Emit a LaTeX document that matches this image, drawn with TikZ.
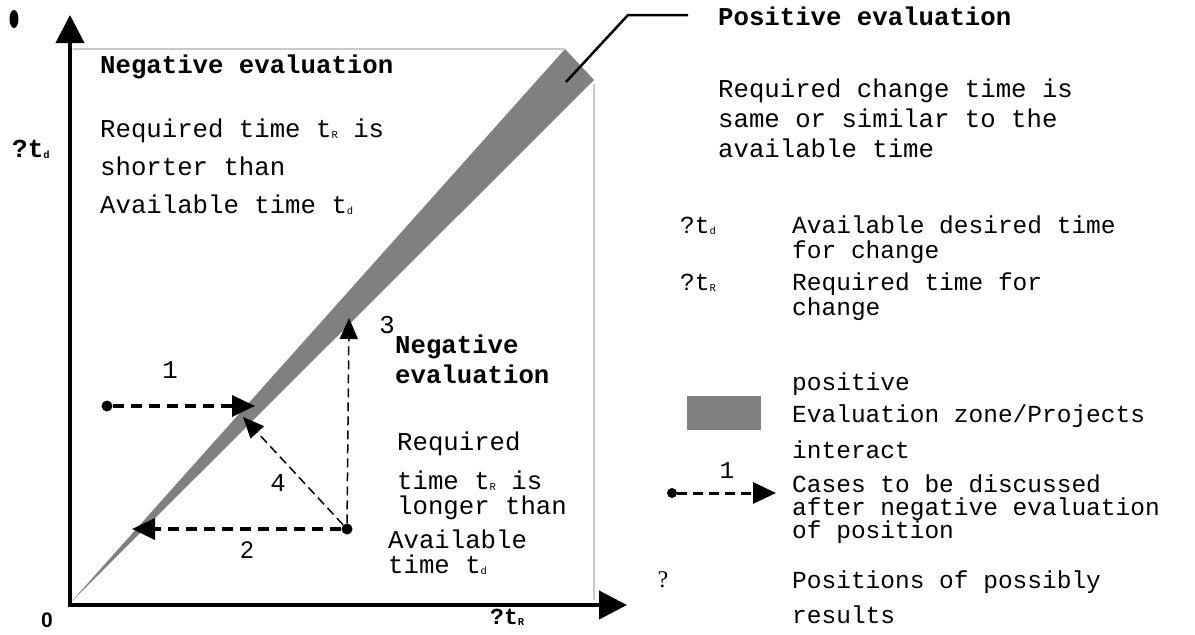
\documentclass[tikz,border=0pt]{standalone}
\usepackage{fontspec}
\setmainfont{Liberation Mono}
\newfontfamily\arialfont{Liberation Sans}
\newfontfamily\timesfont{Liberation Serif}
\usetikzlibrary{arrows.meta}
\definecolor{band}{HTML}{808080}
\definecolor{frame}{HTML}{C8C8C8}
\newcommand{\sub}[1]{\raisebox{-1.5pt}{\fontsize{10.5}{10.5}\selectfont #1}}

\begin{document}
\begin{tikzpicture}[x=1pt,y=-1pt,font=\fontsize{25.7}{30}\selectfont,
 txt/.style={anchor=base west,inner sep=0pt,align=left},
 head/.style={txt,font=\bfseries\fontsize{25.7}{30}\selectfont},
 leg/.style={txt,font=\fontsize{24.5}{25}\selectfont},
 num/.style={inner sep=0pt,font=\fontsize{25.7}{30}\selectfont},
 dot/.style={circle,fill=black,inner sep=0pt,minimum size=11pt},
 axis/.style={-{Triangle[length=28pt,width=28pt]},line width=4pt},
 case/.style={-{Triangle[length=23pt,width=21pt]},line width=3.5pt,dash pattern=on 11pt off 7pt},
 move/.style={-{Triangle[length=21pt,width=18pt]},line width=1.5pt,dash pattern=on 9pt off 5pt}]
\path[use as bounding box] (0,0) rectangle (1195,635);
% evaluation band and frame
\fill[band] (71,602) -- (565,49) -- (594,80) -- cycle;
\draw[frame,line width=2.5pt] (73,49) -- (565,49);
\draw[frame,line width=2.5pt] (594,84) -- (594,600);
\fill (14,19) ellipse [x radius=4.5pt,y radius=9pt];
% axes
\coordinate (O) at (70,605);
\coordinate (xend) at (627,605);
\coordinate (yend) at (70,15);
\draw[axis] (68,605) -- (xend);
\draw[axis] (O) -- (yend);
\node[inner sep=0pt,font=\arialfont\bfseries\fontsize{21}{24}\selectfont] (zero) at (47,620) {0};
\node[txt,font=\bfseries\fontsize{23}{26}\selectfont] (tR) at (490,624) {?t\sub{R}};
\node[txt,font=\bfseries\fontsize{26}{30}\selectfont] (td) at (12,157) {?t\sub{d}};
% leader to positive zone
\coordinate (lead) at (566,82);
\node[head] (pos) at (718,25) {Positive evaluation};
\draw[line width=2.5pt] (lead) -- (628,15) -- (688,15);
\node[txt,font=\fontsize{25.7}{30}\selectfont] (posbody) at (718,157)
 {Required change time is\\same or similar to the\\available time};
% upper negative zone
\node[head] (neg1) at (100,73) {Negative evaluation};
\node[txt,font=\fontsize{25.7}{38}\selectfont] (neg1body) at (100,213)
 {Required time t\sub{R} is\\shorter than\\Available time t\sub{d}};
% lower negative zone
\node[head] (neg2) at (395,383) {Negative\\evaluation};
\node[txt] (neg2a) at (397,450) {Required};
\node[txt,font=\fontsize{25.7}{25}\selectfont] (neg2b) at (397,514) {time t\sub{R} is\\longer than};
\node[txt,font=\fontsize{25.7}{25}\selectfont] (neg2c) at (388,573) {Available\\time t\sub{d}};
% cases
\node[dot] (d1) at (107,406) {};
\node[dot] (d2) at (347,529) {};
\coordinate (t1) at (255,406);
\coordinate (t2) at (132,529);
\coordinate (t3) at (349,318);
\coordinate (t4) at (243,417);
\draw[case] (d1) -- (t1);
\draw[case] (d2) -- (t2);
\draw[move] (d2) -- (t3);
\draw[move] (d2) -- (t4);
\node[num] (n1) at (170,370) {1};
\node[num,font=\arialfont\fontsize{24}{26}\selectfont] (n2) at (247,550) {2};
\node[num] (n3) at (387,325) {3};
\node[num] (n4) at (278,483) {4};
% legend
\node[leg] (ktd) at (680,233) {?t\sub{d}};
\node[leg] (ktdtxt) at (792,258) {Available desired time\\for change};
\node[leg] (ktR) at (680,290) {?t\sub{R}};
\node[leg] (ktRtxt) at (792,315) {Required time for\\change};
\node[leg] (kpos) at (792,390) {positive};
\fill[band] (687,396) rectangle (761,430);
\node[leg,font=\fontsize{24.5}{36}\selectfont] (kzone) at (792,458) {Evaluation zone/Projects\\interact};
\node[dot,minimum size=10pt] (kd) at (672,493) {};
\coordinate (kt) at (776,493);
\draw[case,line width=3pt,dash pattern=on 10pt off 6pt] (kd) -- (kt);
\node[num,font=\fontsize{24.5}{26}\selectfont] (k1) at (727,470) {1};
\node[leg,font=\fontsize{24.5}{23}\selectfont] (kcase) at (792,538)
 {Cases to be discussed\\after negative evaluation\\of position};
\node[num,font=\timesfont\fontsize{24}{26}\selectfont] (kq) at (663,580) {?};
\node[leg,font=\fontsize{24.5}{35}\selectfont] (kres) at (792,623) {Positions of possibly\\results};
\end{tikzpicture}
\end{document}
